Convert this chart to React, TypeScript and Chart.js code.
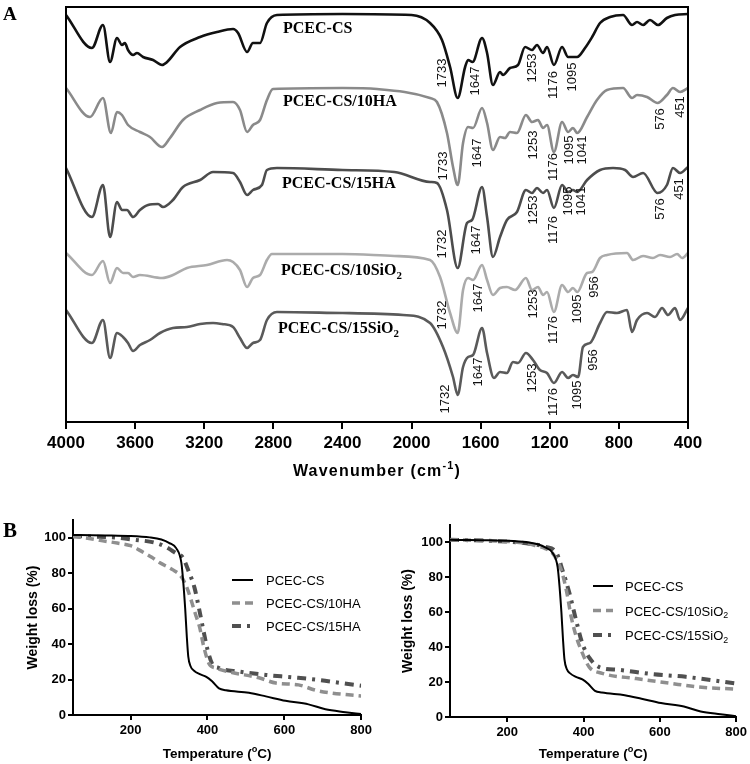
import React, { useEffect, useRef } from 'react';
import { Chart, registerables } from 'chart.js';
Chart.register(...registerables);

const SANS = '"Liberation Sans", Arial, Helvetica, sans-serif';
const SERIF = '"Liberation Serif", "Times New Roman", serif';

// ---------- Panel A: FTIR spectra (wavenumber cm-1, transmittance a.u. with offsets) ----------
const ftirNames = ['PCEC-CS', 'PCEC-CS/10HA', 'PCEC-CS/15HA', 'PCEC-CS/10SiO2', 'PCEC-CS/15SiO2'];
const ftirColors = ['#111111', '#8a8a8a', '#4d4d4d', '#ababab', '#5a5a5a'];

const ftirCS: number[][] = [
  [4000, 407], [3850, 374], [3786, 397], [3745, 360], [3705, 384], [3676, 377], [3659, 379], [3641, 372],
  [3612, 367], [3589, 369], [3554, 365], [3496, 362], [3444, 357], [3415, 360], [3340, 375], [3224, 385],
  [3126, 390], [3033, 393], [3004, 389], [2952, 370], [2918, 379], [2877, 379], [2837, 399], [2779, 407],
  [2400, 408], [2000, 407], [1893, 399], [1824, 382], [1777, 355], [1733, 324], [1690, 355], [1673, 362],
  [1647, 360], [1592, 384], [1563, 369], [1529, 337], [1488, 350], [1471, 347], [1430, 354], [1384, 357],
  [1343, 375], [1303, 372], [1274, 377], [1239, 369], [1216, 375], [1176, 357], [1129, 375], [1094, 365],
  [1042, 365], [996, 374], [955, 385], [909, 399], [851, 405], [776, 407], [724, 397], [695, 400],
  [660, 397], [620, 402], [574, 397], [522, 404], [475, 407], [400, 408],
];
const ftir10HA: number[][] = [
  [4000, 334], [3861, 305], [3786, 324], [3740, 289], [3705, 310], [3676, 307], [3641, 297], [3572, 290],
  [3514, 285], [3444, 275], [3398, 284], [3323, 302], [3224, 312], [3126, 319], [3033, 320], [2993, 312],
  [2952, 290], [2918, 297], [2877, 302], [2837, 322], [2802, 333], [2400, 334], [2200, 333], [1893, 324],
  [1853, 320], [1795, 289], [1760, 255], [1733, 237], [1702, 279], [1673, 295], [1644, 294], [1592, 314],
  [1563, 299], [1529, 272], [1488, 285], [1459, 284], [1430, 290], [1390, 289], [1338, 307], [1303, 300],
  [1268, 302], [1239, 294], [1216, 297], [1176, 270], [1129, 300], [1094, 290], [1066, 294], [1041, 289],
  [984, 305], [927, 322], [869, 332], [776, 334], [724, 324], [695, 327], [637, 325], [576, 319],
  [522, 327], [487, 334], [446, 330], [400, 334],
];
const ftir15HA: number[][] = [
  [4000, 254], [3850, 205], [3786, 237], [3745, 185], [3705, 220], [3676, 212], [3647, 212], [3612, 205],
  [3572, 212], [3525, 217], [3467, 218], [3439, 215], [3381, 222], [3323, 235], [3224, 242], [3149, 250],
  [3033, 249], [2993, 240], [2952, 227], [2918, 232], [2866, 237], [2837, 252], [2779, 254], [2400, 252],
  [2100, 250], [1893, 240], [1853, 239], [1795, 212], [1733, 154], [1679, 199], [1650, 202], [1592, 235],
  [1563, 205], [1529, 165], [1488, 185], [1448, 202], [1390, 210], [1338, 232], [1303, 229], [1274, 234],
  [1239, 229], [1216, 232], [1176, 214], [1129, 237], [1094, 230], [1066, 232], [1041, 230], [984, 242],
  [909, 252], [834, 254], [764, 252], [718, 245], [660, 249], [576, 229], [522, 237], [487, 254],
  [446, 249], [400, 255],
];
const ftir10SiO2: number[][] = [
  [4000, 169], [3850, 147], [3786, 161], [3745, 139], [3705, 154], [3670, 149], [3641, 149], [3612, 145],
  [3572, 147], [3444, 144], [3381, 147], [3300, 154], [3184, 157], [3068, 162], [3033, 160], [2993, 152],
  [2952, 135], [2918, 144], [2877, 147], [2837, 162], [2808, 168], [2400, 168], [2100, 166], [1893, 162],
  [1835, 145], [1777, 109], [1733, 89], [1702, 132], [1673, 144], [1644, 142], [1592, 157], [1563, 142],
  [1529, 127], [1488, 134], [1448, 135], [1401, 132], [1338, 144], [1303, 132], [1268, 135], [1239, 127],
  [1216, 130], [1176, 110], [1129, 137], [1094, 130], [1066, 134], [1041, 130], [984, 149], [955, 150],
  [909, 164], [869, 167], [753, 169], [718, 162], [660, 166], [603, 164], [562, 167], [504, 165],
  [463, 168], [434, 164], [400, 169],
];
const ftir15SiO2: number[][] = [
  [4000, 112], [3850, 79], [3786, 102], [3745, 64], [3705, 89], [3670, 85], [3641, 79], [3612, 71],
  [3572, 77], [3514, 82], [3456, 89], [3381, 94], [3300, 95], [3224, 98], [3149, 99], [3097, 98],
  [3033, 95], [2993, 84], [2952, 74], [2918, 79], [2877, 82], [2837, 102], [2779, 110], [2400, 109],
  [2049, 107], [1893, 99], [1818, 75], [1760, 45], [1733, 27], [1702, 55], [1673, 65], [1644, 67],
  [1592, 94], [1563, 69], [1523, 44], [1488, 50], [1448, 49], [1413, 60], [1384, 59], [1338, 69],
  [1297, 62], [1257, 52], [1216, 49], [1176, 39], [1129, 50], [1094, 44], [1066, 47], [1036, 45],
  [1008, 75], [967, 79], [909, 99], [869, 110], [811, 109], [753, 112], [724, 90], [695, 102],
  [637, 109], [591, 105], [550, 114], [516, 107], [475, 114], [446, 102], [400, 114],
];
const ftirSeries = [ftirCS, ftir10HA, ftir15HA, ftir10SiO2, ftir15SiO2];

// series name anchors [wavenumber, baseline a.u.]
const ftirNameAnchors: number[][] = [[2744, 389], [2744, 316], [2750, 234], [2756, 147], [2773, 89]];

// peak labels: [text, wavenumber, a.u.] (label centre)
const ftirPeaks: [string, number, number][] = [
  ['1733', 1824, 349], ['1647', 1633, 341], ['1253', 1303, 354], ['1176', 1181, 337], ['1095', 1071, 345],
  ['1733', 1818, 256], ['1647', 1621, 269], ['1253', 1297, 277], ['1176', 1181, 255], ['1095', 1089, 272],
  ['1041', 1013, 272], ['576', 562, 303], ['451', 446, 315],
  ['1732', 1824, 178], ['1647', 1627, 182], ['1253', 1297, 212], ['1176', 1181, 192], ['1095', 1094, 221],
  ['1041', 1019, 221], ['576', 562, 213], ['451', 452, 233],
  ['1732', 1824, 107], ['1647', 1615, 124], ['1253', 1297, 118], ['1176', 1181, 92], ['1095', 1042, 113],
  ['956', 944, 135],
  ['1732', 1806, 23], ['1647', 1615, 50], ['1253', 1303, 44], ['1176', 1181, 20], ['1095', 1042, 27],
  ['956', 950, 62],
];

// ---------- Panel B: TGA (temperature °C, weight %) ----------
const tgaCS: number[][] = [
  [50, 101.5], [100, 101.4], [150, 101.2], [200, 101], [250, 100.2], [280, 99], [301, 97], [319, 94],
  [332, 86], [337, 75], [342, 60], [346, 45], [350, 33], [356, 27.5], [365, 25], [380, 23], [397, 21.5],
  [412, 19], [430, 15], [448, 14], [508, 12.5], [552, 10.5], [603, 8], [663, 6], [707, 3.2], [759, 1.6],
  [800, 0.5],
];
const tga10HA: number[][] = [
  [50, 100.5], [80, 100], [120, 98.5], [165, 97], [200, 95.5], [231, 92], [255, 89], [275, 86], [309, 82],
  [332, 78], [348, 71], [360, 63], [370, 56], [379, 50], [391, 38], [404, 29], [422, 26.5], [464, 24],
  [534, 21], [578, 18], [637, 17], [681, 14], [723, 12.4], [800, 10.7],
];
const tga15HA: number[][] = [
  [50, 101], [165, 100], [205, 99], [267, 97], [290, 95], [320, 91], [335, 89], [353, 80], [366, 72],
  [379, 59], [391, 46], [400, 37], [412, 29], [430, 26.5], [482, 24.5], [552, 22.6], [619, 21.3],
  [689, 19.8], [749, 18], [800, 16.5],
];
const tga10SiO2: number[][] = [
  [50, 101.5], [150, 101], [250, 99.5], [277, 98], [300, 96.5], [319, 93.7], [332, 89], [342, 84],
  [355, 72.6], [368, 57], [381, 46], [397, 36.6], [415, 28.6], [449, 25], [538, 22], [624, 19.4],
  [710, 17], [800, 16],
];
const tga15SiO2: number[][] = [
  [50, 101.5], [150, 101], [250, 99.5], [300, 97.5], [329, 94], [345, 84], [363, 71], [381, 55],
  [397, 42], [415, 34], [441, 28.6], [493, 27], [579, 24.6], [668, 23], [800, 19.2],
];
const tgaTempTicks = [200, 400, 600, 800];
const tgaWeightTicks = [0, 20, 40, 60, 80, 100];

type Part = { t: string; s?: 'sup' | 'sub' };

function chemParts(name: string): Part[] {
  if (name.endsWith('SiO2')) return [{ t: name.slice(0, -1) }, { t: '2', s: 'sub' }];
  return [{ t: name }];
}

function drawRich(ctx: CanvasRenderingContext2D, parts: Part[], x: number, y: number, size: number,
  weight: string, family: string, align: 'left' | 'center', spacing = 0) {
  const fontFor = (p: Part) => `${weight} ${p.s ? size * 0.68 : size}px ${family}`;
  (ctx as any).letterSpacing = `${spacing}px`;
  let total = 0;
  const ws = parts.map((p) => { ctx.font = fontFor(p); const w = ctx.measureText(p.t).width; total += w; return w; });
  let cx = align === 'center' ? x - total / 2 : x;
  ctx.textAlign = 'left';
  ctx.textBaseline = 'alphabetic';
  parts.forEach((p, i) => {
    ctx.font = fontFor(p);
    const dy = p.s === 'sup' ? -size * 0.42 : p.s === 'sub' ? size * 0.22 : 0;
    ctx.fillText(p.t, cx, y + dy);
    cx += ws[i];
  });
  (ctx as any).letterSpacing = '0px';
}

const ftirPlugin = {
  id: 'ftirDecor',
  afterDatasetsDraw(chart: any) {
    const { ctx, chartArea: a, scales } = chart;
    const x = scales.x, y = scales.y;
    ctx.save();
    ctx.strokeStyle = '#000';
    ctx.lineWidth = 2;
    ctx.beginPath();
    ctx.moveTo(a.left, a.bottom);
    ctx.lineTo(a.left, a.top);
    ctx.lineTo(a.right, a.top);
    ctx.lineTo(a.right, a.bottom);
    ctx.stroke();

    ctx.fillStyle = '#111';
    ctx.font = `13px ${SANS}`;
    ctx.textAlign = 'center';
    ctx.textBaseline = 'middle';
    for (const [t, wn, v] of ftirPeaks) {
      ctx.save();
      ctx.translate(x.getPixelForValue(wn), y.getPixelForValue(v));
      ctx.rotate(-Math.PI / 2);
      ctx.fillText(t, 0, 0);
      ctx.restore();
    }
    ctx.fillStyle = '#000';
    ftirNames.forEach((n, i) => {
      const [wn, v] = ftirNameAnchors[i];
      drawRich(ctx, chemParts(n), x.getPixelForValue(wn), y.getPixelForValue(v), 16, 'bold', SERIF, 'left');
    });
    // axis title
    drawRich(ctx, [{ t: 'Wavenumber (cm' }, { t: '-1', s: 'sup' }, { t: ')' }], (a.left + a.right) / 2, 476, 16, 'bold', SANS, 'center', 1.2);
    // panel letter
    ctx.font = `bold 19px ${SERIF}`;
    ctx.textAlign = 'left';
    ctx.textBaseline = 'alphabetic';
    ctx.fillText('A', 3, 20);
    ctx.restore();
  },
};

const tgaPlugin = {
  id: 'tgaDecor',
  afterDraw(chart: any) {
    const { ctx, chartArea: a } = chart;
    const o = chart.options.plugins.tgaDecor;
    ctx.save();
    ctx.fillStyle = '#000';
    // legend
    chart.data.datasets.forEach((ds: any, i: number) => {
      const yy = o.legendY + i * o.legendStep;
      ctx.save();
      ctx.strokeStyle = ds.borderColor;
      ctx.lineWidth = ds.borderWidth;
      ctx.setLineDash(ds.borderDash || []);
      ctx.beginPath();
      ctx.moveTo(o.sampleX0, yy);
      ctx.lineTo(o.sampleX1, yy);
      ctx.stroke();
      ctx.restore();
      drawRich(ctx, chemParts(ds.label), o.textX, yy + 5, 13, 'normal', SANS, 'left');
    });
    // titles
    drawRich(ctx, [{ t: 'Temperature (' }, { t: 'o', s: 'sup' }, { t: 'C)' }], (a.left + a.right) / 2, 268, 13.5, 'bold', SANS, 'center');
    ctx.save();
    ctx.translate(33, (a.top + a.bottom) / 2);
    ctx.rotate(-Math.PI / 2);
    ctx.font = `bold 14px ${SANS}`;
    ctx.textAlign = 'center';
    ctx.textBaseline = 'middle';
    ctx.fillText('Weight loss (%)', 0, 0);
    ctx.restore();
    if (o.letter) {
      ctx.font = `bold 21px ${SERIF}`;
      ctx.textAlign = 'left';
      ctx.textBaseline = 'alphabetic';
      ctx.fillText(o.letter, 3, 47);
    }
    ctx.restore();
  },
};

const toXY = (arr: number[][]) => arr.map(([x, y]) => ({ x, y }));
const plainTick = (v: any) => String(v);

function makeFtir(canvas: HTMLCanvasElement) {
  return new Chart(canvas, {
    type: 'line',
    data: {
      datasets: ftirSeries.map((s, i) => ({
        label: ftirNames[i],
        data: toXY(s),
        borderColor: ftirColors[i],
        borderWidth: 2.6,
        pointRadius: 0,
        cubicInterpolationMode: 'monotone',
        fill: false,
      })),
    },
    options: {
      responsive: false,
      animation: false,
      events: [],
      layout: { padding: { left: 66, right: 62, top: 7, bottom: 0 } },
      plugins: { legend: { display: false }, tooltip: { enabled: false } },
      scales: {
        x: {
          type: 'linear',
          reverse: true,
          min: 400,
          max: 4000,
          afterFit: (s: any) => { s.height = 68; },
          ticks: { stepSize: 400, callback: plainTick, color: '#000', font: { size: 17, weight: 'bold', family: SANS }, padding: 4, maxRotation: 0, autoSkip: false },
          grid: { display: true, drawOnChartArea: false, drawTicks: true, tickLength: 7, color: '#000', lineWidth: 2 },
          border: { display: true, color: '#000', width: 2 },
        },
        y: { display: false, min: 0, max: 415 },
      },
    } as any,
    plugins: [ftirPlugin],
  });
}

function makeTga(canvas: HTMLCanvasElement, sets: { label: string; data: number[][]; kind: number }[], cfg: any) {
  const styles = [
    { borderColor: '#000000', borderWidth: 2, borderDash: [] as number[] },
    { borderColor: '#8f8f8f', borderWidth: 3.5, borderDash: [8, 5] },
    { borderColor: '#505050', borderWidth: 4, borderDash: [9, 6, 3, 6] },
  ];
  return new Chart(canvas, {
    type: 'line',
    data: {
      datasets: sets.map((s) => ({
        label: s.label,
        data: toXY(s.data),
        ...styles[s.kind],
        pointRadius: 0,
        cubicInterpolationMode: 'monotone',
        fill: false,
      })),
    },
    options: {
      responsive: false,
      animation: false,
      events: [],
      layout: { padding: { left: 0, right: cfg.padRight, top: cfg.padTop, bottom: 0 } },
      plugins: { legend: { display: false }, tooltip: { enabled: false }, tgaDecor: cfg.decor },
      scales: {
        x: {
          type: 'linear',
          min: 50,
          max: 800,
          afterBuildTicks: (s: any) => { s.ticks = tgaTempTicks.map((v) => ({ value: v })); },
          afterFit: (s: any) => { s.height = cfg.xHeight; },
          ticks: { callback: plainTick, color: '#000', font: { size: 13, weight: 'bold', family: SANS }, padding: 3, maxRotation: 0, autoSkip: false },
          grid: { display: true, drawOnChartArea: false, drawTicks: true, tickLength: 5, color: '#000', lineWidth: 2 },
          border: { display: true, color: '#000', width: 2 },
        },
        y: {
          type: 'linear',
          min: 0,
          max: 110,
          afterBuildTicks: (s: any) => { s.ticks = tgaWeightTicks.map((v) => ({ value: v })); },
          afterFit: (s: any) => { s.width = cfg.yWidth; },
          ticks: { callback: plainTick, color: '#000', font: { size: 13, weight: 'bold', family: SANS }, padding: 2, autoSkip: false },
          grid: { display: true, drawOnChartArea: false, drawTicks: true, tickLength: 5, color: '#000', lineWidth: 2 },
          border: { display: true, color: '#000', width: 2 },
        },
      },
    } as any,
    plugins: [tgaPlugin],
  });
}

export default function App() {
  const refA = useRef<HTMLCanvasElement>(null);
  const refB1 = useRef<HTMLCanvasElement>(null);
  const refB2 = useRef<HTMLCanvasElement>(null);

  useEffect(() => {
    const charts: Chart[] = [];
    if (refA.current) charts.push(makeFtir(refA.current));
    if (refB1.current)
      charts.push(makeTga(refB1.current, [
        { label: 'PCEC-CS', data: tgaCS, kind: 0 },
        { label: 'PCEC-CS/10HA', data: tga10HA, kind: 1 },
        { label: 'PCEC-CS/15HA', data: tga15HA, kind: 2 },
      ], {
        padRight: 11, padTop: 30, xHeight: 49, yWidth: 73,
        decor: { legendY: 90, legendStep: 23, sampleX0: 232, sampleX1: 253, textX: 266, letter: 'B' },
      }));
    if (refB2.current)
      charts.push(makeTga(refB2.current, [
        { label: 'PCEC-CS', data: tgaCS, kind: 0 },
        { label: 'PCEC-CS/10SiO2', data: tga10SiO2, kind: 1 },
        { label: 'PCEC-CS/15SiO2', data: tga15SiO2, kind: 2 },
      ], {
        padRight: 13, padTop: 35, xHeight: 47, yWidth: 75,
        decor: { legendY: 96, legendStep: 24.5, sampleX0: 218, sampleX1: 238, textX: 250, letter: '' },
      }));
    return () => charts.forEach((c) => c.destroy());
  }, []);

  return (
    <div style={{ position: 'fixed', left: 0, top: 0, width: 750, height: 764, background: '#fff' }}>
      <canvas ref={refA} width={750} height={490} style={{ position: 'absolute', left: 0, top: 0 }} />
      <canvas ref={refB1} width={375} height={274} style={{ position: 'absolute', left: 0, top: 490 }} />
      <canvas ref={refB2} width={375} height={274} style={{ position: 'absolute', left: 375, top: 490 }} />
    </div>
  );
}
